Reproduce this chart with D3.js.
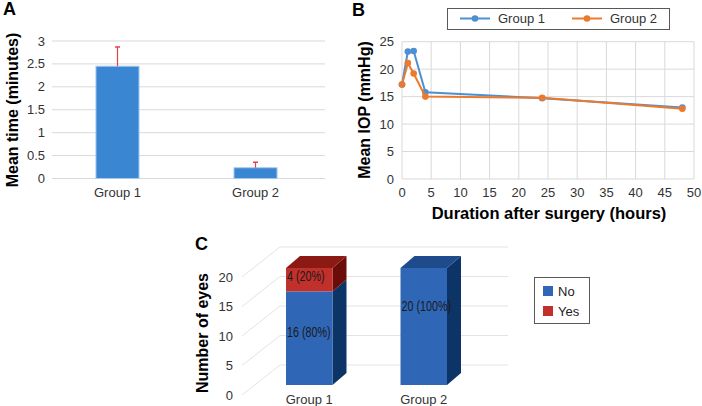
<!DOCTYPE html>
<html><head><meta charset="utf-8">
<script src="https://cdn.jsdelivr.net/npm/d3@7"></script>
<style>
html,body{margin:0;padding:0;background:#fff;}
svg{display:block;font-family:"Liberation Sans",Arial,sans-serif;}
</style></head>
<body>
<svg id="c" width="702" height="406"></svg>
<script>
// ---------- Data ----------
// Panel A
const groupsA = ["Group 1", "Group 2"];
const meanTime = [2.45, 0.235];
const errTime = [0.42, 0.12];
const ticksA = [0, 0.5, 1, 1.5, 2, 2.5, 3];
// Panel B
const hours = [0, 1, 2, 4, 24, 48];
const iopGroup1 = [17.2, 23.2, 23.3, 15.8, 14.7, 13.0];
const iopGroup2 = [17.2, 21.1, 19.2, 15.0, 14.8, 12.8];
const seriesB = ["Group 1", "Group 2"];
const ticksBx = [0, 5, 10, 15, 20, 25, 30, 35, 40, 45, 50];
const ticksBy = [0, 5, 10, 15, 20, 25];
// Panel C
const groupsC = ["Group 1", "Group 2"];
const eyesNo = [16, 20];
const eyesYes = [4, 0];
const labelsNo = ["16 (80%)", "20 (100%)"];
const labelsYes = ["4 (20%)", ""];
const legendC = ["No", "Yes"];
const ticksC = [0, 5, 10, 15, 20];

const svg = d3.select("#c");
const fontTick = 13;

// ---------- Panel A ----------
(function(){
  const g = svg.append("g");
  const x = d3.scaleBand().domain(groupsA).range([50, 323]).paddingInner(0.688).paddingOuter(0.333);
  const y = d3.scaleLinear().domain([0, 3]).range([178.5, 41]);
  g.selectAll("line.grid").data(ticksA).join("line")
    .attr("x1", 52).attr("x2", 325)
    .attr("y1", d => y(d)).attr("y2", d => y(d))
    .attr("stroke", "#d9d9d9").attr("stroke-width", 1);
  g.selectAll("text.yt").data(ticksA).join("text")
    .attr("x", 45).attr("y", d => y(d)).attr("dy", "0.35em")
    .attr("text-anchor", "end").attr("font-size", fontTick).attr("fill", "#333")
    .text(d => d);
  g.selectAll("rect.bar").data(groupsA).join("rect")
    .attr("x", d => x(d)).attr("width", x.bandwidth())
    .attr("y", (d, i) => y(meanTime[i])).attr("height", (d, i) => y(0) - y(meanTime[i]))
    .attr("fill", "#3a86d2").attr("stroke", "#a6caee").attr("stroke-width", 1);
  groupsA.forEach((d, i) => {
    const cx = x(d) + x.bandwidth() / 2;
    g.append("line").attr("x1", cx).attr("x2", cx)
      .attr("y1", y(meanTime[i])).attr("y2", y(meanTime[i] + errTime[i]))
      .attr("stroke", "#e6404a").attr("stroke-width", 1.2);
    g.append("line").attr("x1", cx - 2.5).attr("x2", cx + 2.5)
      .attr("y1", y(meanTime[i] + errTime[i])).attr("y2", y(meanTime[i] + errTime[i]))
      .attr("stroke", "#e6404a").attr("stroke-width", 1.5);
  });
  g.selectAll("text.xt").data(groupsA).join("text")
    .attr("x", d => x(d) + x.bandwidth() / 2).attr("y", 197)
    .attr("text-anchor", "middle").attr("font-size", fontTick).attr("fill", "#333")
    .text(d => d);
  g.append("text").attr("transform", "translate(18,110) rotate(-90)")
    .attr("text-anchor", "middle").attr("font-size", 16).attr("font-weight", "bold")
    .text("Mean time (minutes)");
  g.append("text").attr("x", 3).attr("y", 15).attr("font-size", 18).attr("font-weight", "bold").text("A");
})();

// ---------- Panel B ----------
(function(){
  const g = svg.append("g");
  const x = d3.scaleLinear().domain([0, 50]).range([402, 694]);
  const y = d3.scaleLinear().domain([0, 25]).range([179, 41.7]);
  g.selectAll("line.gx").data(ticksBx).join("line")
    .attr("x1", d => x(d)).attr("x2", d => x(d)).attr("y1", y(0)).attr("y2", y(25))
    .attr("stroke", "#d9d9d9");
  g.selectAll("line.gy").data(ticksBy).join("line")
    .attr("x1", x(0)).attr("x2", x(50)).attr("y1", d => y(d)).attr("y2", d => y(d))
    .attr("stroke", "#d9d9d9");
  g.selectAll("text.yt").data(ticksBy).join("text")
    .attr("x", 394).attr("y", d => y(d)).attr("dy", "0.35em")
    .attr("text-anchor", "end").attr("font-size", fontTick).attr("fill", "#333").text(d => d);
  g.selectAll("text.xt").data(ticksBx).join("text")
    .attr("x", d => x(d)).attr("y", 197)
    .attr("text-anchor", "middle").attr("font-size", fontTick).attr("fill", "#333").text(d => d);
  const colors = ["#4d90d2", "#ec7a2c"];
  const seriesData = [iopGroup1, iopGroup2];
  const line = d3.line().x((d, i) => x(hours[i])).y(d => y(d));
  seriesData.forEach((s, k) => {
    g.append("path").datum(s).attr("d", line).attr("fill", "none")
      .attr("stroke", colors[k]).attr("stroke-width", 2);
    g.selectAll("circle.s" + k).data(s).join("circle")
      .attr("cx", (d, i) => x(hours[i])).attr("cy", d => y(d)).attr("r", 3.3)
      .attr("fill", colors[k]);
  });
  g.append("rect").attr("x", 447.5).attr("y", 8.5).attr("width", 222).attr("height", 21)
    .attr("fill", "#fff").attr("stroke", "#595959");
  const lx = [460, 572];
  seriesB.forEach((s, k) => {
    g.append("line").attr("x1", lx[k]).attr("x2", lx[k] + 30).attr("y1", 18.5).attr("y2", 18.5)
      .attr("stroke", colors[k]).attr("stroke-width", 2);
    g.append("circle").attr("cx", lx[k] + 15).attr("cy", 18.5).attr("r", 3.3).attr("fill", colors[k]);
    g.append("text").attr("x", lx[k] + 38).attr("y", 18.5).attr("dy", "0.35em")
      .attr("font-size", fontTick).attr("fill", "#333").text(s);
  });
  g.append("text").attr("x", 549).attr("y", 219).attr("text-anchor", "middle")
    .attr("font-size", 16.5).attr("font-weight", "bold").text("Duration after surgery (hours)");
  g.append("text").attr("transform", "translate(370,110) rotate(-90)")
    .attr("text-anchor", "middle").attr("font-size", 16).attr("font-weight", "bold")
    .text("Mean IOP (mmHg)");
  g.append("text").attr("x", 352).attr("y", 16).attr("font-size", 18).attr("font-weight", "bold").text("B");
})();

// ---------- Panel C ----------
(function(){
  const g = svg.append("g");
  const yFront = d3.scaleLinear().domain([0, 20]).range([395, 277]);
  const depthX = 38, depthY = -30;
  const xLeft = 242, xBackRight = 508;
  g.selectAll("line.back").data(ticksC).join("line")
    .attr("x1", xLeft + depthX).attr("x2", xBackRight)
    .attr("y1", d => yFront(d) + depthY).attr("y2", d => yFront(d) + depthY)
    .attr("stroke", "#e3e3e3");
  g.selectAll("line.diag").data(ticksC).join("line")
    .attr("x1", xLeft).attr("x2", xLeft + depthX)
    .attr("y1", d => yFront(d)).attr("y2", d => yFront(d) + depthY)
    .attr("stroke", "#e3e3e3");
  g.selectAll("text.yt").data(ticksC).join("text")
    .attr("x", 233).attr("y", d => yFront(d)).attr("dy", "0.35em")
    .attr("text-anchor", "end").attr("font-size", fontTick).attr("fill", "#333").text(d => d);
  const x = d3.scaleBand().domain(groupsC).range([252, 481]).paddingInner(0.594).paddingOuter(0.297);
  const yBar = d3.scaleLinear().domain([0, 20]).range([385, 268]);
  const bdx = 14, bdy = -12;
  const segColors = [
    {front: "#2f66b5", top: "#1f4b8d", side: "#0d3467"},
    {front: "#c2302b", top: "#8c1a14", side: "#6c0c09"}
  ];
  const narrow = (sel, tx, ty) => sel.attr("transform", `translate(${tx},${ty}) scale(0.74,1)`)
    .attr("dy", "0.35em").attr("font-size", 14.5).attr("fill", "#1a1a1a");
  groupsC.forEach((grp, i) => {
    const x0 = x(grp), w = x.bandwidth();
    const segs = [[0, eyesNo[i]], [eyesNo[i], eyesNo[i] + eyesYes[i]]];
    segs.forEach((sg, k) => {
      if (sg[1] <= sg[0]) return;
      const yb = yBar(sg[0]), yt = yBar(sg[1]);
      const c = segColors[k];
      g.append("path").attr("d", `M${x0 + w},${yb} L${x0 + w + bdx},${yb + bdy} L${x0 + w + bdx},${yt + bdy} L${x0 + w},${yt} Z`)
        .attr("fill", c.side);
      g.append("rect").attr("x", x0).attr("y", yt).attr("width", w).attr("height", yb - yt).attr("fill", c.front);
    });
    const total = eyesNo[i] + eyesYes[i];
    const topC = segColors[eyesYes[i] > 0 ? 1 : 0].top;
    const yt = yBar(total);
    g.append("path").attr("d", `M${x0},${yt} L${x0 + bdx},${yt + bdy} L${x0 + w + bdx},${yt + bdy} L${x0 + w},${yt} Z`)
      .attr("fill", topC);
    narrow(g.append("text"), x0 + 1, yBar(eyesNo[i] / 2 + (i === 0 ? 1.1 : 3.6))).text(labelsNo[i]);
    if (labelsYes[i]) {
      narrow(g.append("text"), x0 + 1, yBar(eyesNo[i] + eyesYes[i] / 2 + 0.6)).text(labelsYes[i]);
    }
    g.append("text").attr("x", x0 + w / 2).attr("y", 404)
      .attr("text-anchor", "middle").attr("font-size", fontTick).attr("fill", "#333").text(grp);
  });
  g.append("rect").attr("x", 534.5).attr("y", 277.5).attr("width", 55).attr("height", 46)
    .attr("fill", "#fff").attr("stroke", "#595959");
  const legCols = [segColors[0].front, segColors[1].front];
  legendC.forEach((s, k) => {
    g.append("rect").attr("x", 543).attr("y", 286 + k * 20).attr("width", 10).attr("height", 10)
      .attr("fill", legCols[k]);
    g.append("text").attr("x", 558).attr("y", 291 + k * 20).attr("dy", "0.35em")
      .attr("font-size", fontTick).attr("fill", "#222").text(s);
  });
  g.append("text").attr("transform", "translate(208,333) rotate(-90)")
    .attr("text-anchor", "middle").attr("font-size", 16).attr("font-weight", "bold")
    .text("Number of eyes");
  g.append("text").attr("x", 195).attr("y", 250).attr("font-size", 18).attr("font-weight", "bold").text("C");
})();
</script>
</body></html>
